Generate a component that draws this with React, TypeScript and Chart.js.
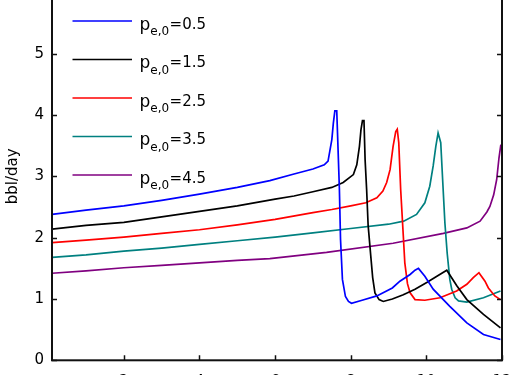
import React, { useEffect, useRef } from "react";
import { Chart, registerables } from "chart.js";

Chart.register(...registerables);

// ---- data ----
const seriesValues = ["0.5", "1.5", "2.5", "3.5", "4.5"];
const seriesColors = ["#0000ff", "#000000", "#ff0000", "#008080", "#800080"];

const xTicks = [2, 4, 6, 8, 10, 12];
const yTicks = [0, 1, 2, 3, 4, 5, 6];
const yTitle = "bbl/day";

const blueX = [0.1, 1.0, 2.0, 3.0, 4.0, 5.0, 5.86, 6.5, 7.0, 7.3, 7.4, 7.5, 7.54, 7.58, 7.63, 7.65, 7.7, 7.73, 7.78, 7.86, 7.94, 8.02, 8.3, 8.69, 9.1, 9.3, 9.57, 9.7, 9.79, 9.96, 10.18, 10.62, 11.07, 11.51, 11.96];
const blueY = [2.38, 2.45, 2.52, 2.61, 2.71, 2.82, 2.93, 3.04, 3.12, 3.19, 3.25, 3.6, 3.87, 4.07, 4.07, 3.71, 2.79, 1.97, 1.32, 1.04, 0.96, 0.93, 0.98, 1.05, 1.18, 1.29, 1.4, 1.47, 1.5, 1.37, 1.16, 0.88, 0.61, 0.42, 0.34];

const blackX = [0.1, 1.0, 2.0, 3.0, 4.0, 5.0, 6.0, 6.5, 7.0, 7.5, 7.8, 8.07, 8.16, 8.23, 8.27, 8.31, 8.35, 8.38, 8.42, 8.46, 8.53, 8.58, 8.64, 8.75, 8.86, 9.1, 9.39, 9.7, 10.01, 10.3, 10.54, 10.8, 11.07, 11.51, 11.96];
const blackY = [2.14, 2.2, 2.25, 2.34, 2.43, 2.52, 2.63, 2.68, 2.75, 2.82, 2.9, 3.03, 3.19, 3.49, 3.76, 3.91, 3.91, 3.27, 2.79, 2.2, 1.7, 1.35, 1.1, 0.99, 0.96, 1.0, 1.07, 1.16, 1.27, 1.38, 1.47, 1.22, 0.99, 0.75, 0.53];

const redX = [0.1, 1.0, 2.0, 3.0, 4.0, 5.0, 6.0, 7.0, 7.5, 8.0, 8.4, 8.69, 8.85, 8.95, 9.04, 9.12, 9.19, 9.23, 9.27, 9.32, 9.39, 9.43, 9.5, 9.57, 9.7, 9.96, 10.36, 10.8, 11.07, 11.24, 11.39, 11.55, 11.64, 11.81, 11.96];
const redY = [1.92, 1.96, 2.01, 2.07, 2.13, 2.21, 2.3, 2.41, 2.46, 2.52, 2.57, 2.65, 2.76, 2.9, 3.11, 3.49, 3.73, 3.77, 3.55, 2.79, 2.03, 1.59, 1.25, 1.1, 0.99, 0.98, 1.02, 1.13, 1.24, 1.35, 1.43, 1.29, 1.18, 1.05, 0.99];

const tealX = [0.1, 1.0, 2.0, 3.0, 4.0, 5.0, 6.0, 7.0, 8.0, 9.0, 9.4, 9.74, 9.96, 10.09, 10.18, 10.25, 10.31, 10.38, 10.43, 10.49, 10.55, 10.62, 10.67, 10.76, 10.85, 11.07, 11.51, 11.96];
const tealY = [1.68, 1.72, 1.78, 1.83, 1.89, 1.95, 2.01, 2.08, 2.15, 2.22, 2.27, 2.38, 2.57, 2.84, 3.17, 3.49, 3.71, 3.55, 2.95, 2.24, 1.75, 1.32, 1.16, 1.02, 0.97, 0.95, 1.02, 1.13];

const purpleX = [0.1, 1.0, 2.0, 3.0, 4.0, 5.0, 5.86, 7.36, 9.12, 10.45, 11.07, 11.42, 11.6, 11.68, 11.78, 11.86, 11.92, 11.97];
const purpleY = [1.42, 1.46, 1.51, 1.55, 1.59, 1.63, 1.66, 1.76, 1.91, 2.07, 2.16, 2.27, 2.42, 2.51, 2.7, 2.95, 3.3, 3.52];

const seriesX = [blueX, blackX, redX, tealX, purpleX];
const seriesY = [blueY, blackY, redY, tealY, purpleY];

const X_MIN = 0.1;
const X_MAX = 12;
const Y_MIN = 0;
const Y_MAX = 6;

// ---- layout ----
const CANVAS_W = 531;
const CANVAS_H = 460;
const OFFSET_TOP = -40;
const FONT = "'DejaVu Sans', sans-serif";

const framePlugin = {
  id: "matlabFrame",
  afterDraw(chart: any) {
    const { ctx, chartArea, scales } = chart;
    const { left, right, top, bottom } = chartArea;
    ctx.save();
    ctx.strokeStyle = "#111";
    ctx.lineWidth = 1.5;
    const tl = 5;
    ctx.beginPath();
    for (const v of xTicks) {
      const px = Math.round(scales.x.getPixelForValue(v)) + 0.5;
      ctx.moveTo(px, bottom);
      ctx.lineTo(px, bottom - tl);
      ctx.moveTo(px, top);
      ctx.lineTo(px, top + tl);
    }
    for (const v of yTicks) {
      const py = Math.round(scales.y.getPixelForValue(v)) + 0.5;
      ctx.moveTo(left, py);
      ctx.lineTo(left + tl, py);
      ctx.moveTo(right, py);
      ctx.lineTo(right - tl, py);
    }
    ctx.stroke();
    ctx.lineWidth = 2;
    ctx.strokeRect(left, top, right - left, bottom - top);
    ctx.restore();
  },
};

const legendPlugin = {
  id: "texLegend",
  afterDraw(chart: any) {
    const { ctx, chartArea } = chart;
    const x0 = chartArea.left + 20.5;
    const x1 = chartArea.left + 80;
    const y0 = chartArea.top + 28.5;
    const gap = 38.5;
    ctx.save();
    chart.data.datasets.forEach((ds: any, i: number) => {
      const ly = y0 + i * gap;
      ctx.strokeStyle = ds.borderColor;
      ctx.lineWidth = 1.5;
      ctx.beginPath();
      ctx.moveTo(x0, ly);
      ctx.lineTo(x1, ly);
      ctx.stroke();
      ctx.fillStyle = "#000";
      ctx.textBaseline = "alphabetic";
      ctx.textAlign = "left";
      let tx = x1 + 7.5;
      ctx.font = `17px ${FONT}`;
      ctx.fillText("p", tx, ly + 8.5);
      tx += ctx.measureText("p").width;
      ctx.font = `12px ${FONT}`;
      ctx.fillText("e,0", tx, ly + 14);
      tx += ctx.measureText("e,0").width + 0.5;
      ctx.font = `15px ${FONT}`;
      ctx.fillText("=" + seriesValues[i], tx, ly + 7.5);
    });
    ctx.restore();
  },
};

export default function App() {
  const canvasRef = useRef<HTMLCanvasElement | null>(null);

  useEffect(() => {
    const canvas = canvasRef.current;
    if (!canvas) return;
    const datasets = seriesX.map((xs, i) => ({
      label: "pe,0=" + seriesValues[i],
      data: xs.map((x, j) => ({ x, y: seriesY[i][j] })),
      borderColor: seriesColors[i],
      backgroundColor: seriesColors[i],
      borderWidth: 1.7,
      pointRadius: 0,
      tension: 0,
      fill: false,
    }));

    const chart = new Chart(canvas, {
      type: "line",
      data: { datasets },
      options: {
        responsive: false,
        animation: false,
        devicePixelRatio: 1,
        layout: { padding: { top: 32.5, right: 29, left: 0, bottom: 0 } },
        plugins: {
          legend: { display: false },
          tooltip: { enabled: false },
        },
        scales: {
          x: {
            type: "linear",
            min: X_MIN,
            max: X_MAX,
            afterBuildTicks: (s: any) => {
              s.ticks = xTicks.map((v) => ({ value: v }));
            },
            afterFit: (s: any) => {
              s.height = CANVAS_H - 400.3;
            },
            grid: { display: false, drawTicks: false },
            border: { display: false },
            ticks: {
              padding: 13,
              color: "#000",
              font: { family: FONT, size: 15 },
              maxRotation: 0,
              autoSkip: false,
            },
          },
          y: {
            type: "linear",
            min: Y_MIN,
            max: Y_MAX,
            afterBuildTicks: (s: any) => {
              s.ticks = yTicks.map((v) => ({ value: v }));
            },
            afterFit: (s: any) => {
              s.width = 52;
            },
            grid: { display: false, drawTicks: false },
            border: { display: false },
            ticks: {
              padding: 8,
              color: "#000",
              font: { family: FONT, size: 15 },
              autoSkip: false,
            },
            title: {
              display: true,
              text: yTitle,
              color: "#000",
              font: { family: FONT, size: 15 },
              padding: { top: 4, bottom: 0 },
            },
          },
        },
      },
      plugins: [framePlugin, legendPlugin],
    });
    return () => chart.destroy();
  }, []);

  return (
    <div
      style={{
        position: "fixed",
        left: 0,
        top: OFFSET_TOP,
        width: CANVAS_W,
        height: CANVAS_H,
        background: "#fff",
      }}
    >
      <canvas
        ref={canvasRef}
        width={CANVAS_W}
        height={CANVAS_H}
        style={{ display: "block", width: CANVAS_W, height: CANVAS_H }}
      />
    </div>
  );
}
